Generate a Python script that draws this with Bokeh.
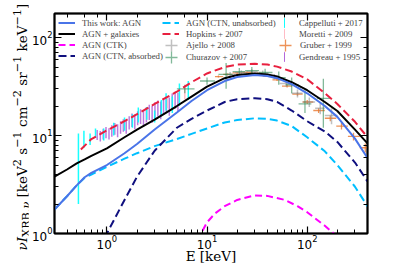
import numpy as np
from bokeh.plotting import figure
from bokeh.layouts import row
from bokeh.models import (ColumnDataSource, Legend, LegendItem, LogAxis, Div,
                          LogTicker, Range1d)
from bokeh.embed import file_html
from bokeh.resources import INLINE

# ---------------- model curves ----------------
E_grid = [0.3, 0.4, 0.5, 0.6, 0.7, 1, 1.5, 2, 3, 5, 7, 10, 15, 20, 30, 40, 50, 70, 100, 150, 200, 300, 400]
this_work_agn = [1.76, 2.4, 3.1, 3.75, 4.15, 5.0, 6.6, 8.2, 11.5, 17.2, 22.5, 29.0, 36, 39.5, 41.5, 40.5, 38.5, 33.5, 27, 20, 15.5, 9.3, 5.9]
agn_galaxies = [3.8, 4.5, 5.2, 5.7, 6.2, 7.4, 9.6, 11.5, 14.5, 20, 25, 31.5, 38.5, 41.5, 43, 42, 40, 35, 29, 22, 17.8, 11.5, 8.3]
ctn_unabsorbed = [1.76, 2.4, 3.1, 3.7, 4.0, 4.8, 5.8, 6.6, 7.8, 9.2, 10.4, 11.8, 13.6, 14.4, 15.0, 14.8, 14.2, 12.5, 9.6, 6.9, 5.0, 3.0, 1.9]

E_abs = [0.95, 1, 1.5, 2, 3, 5, 7, 10, 15, 20, 30, 40, 50, 70, 100, 150, 200, 300, 400]
ctn_absorbed = [0.9, 1.0, 2.2, 3.8, 7.0, 12, 14.8, 18, 22, 23.5, 24, 23.5, 22, 18, 14, 11, 8.6, 5.3, 3.4]

E_ctk = [8, 10, 12, 15, 20, 30, 40, 60, 80, 100, 150, 200]
ctk = [0.85, 1.3, 1.6, 1.9, 2.2, 2.45, 2.42, 2.2, 1.9, 1.65, 1.2, 0.93]

E_hop = [0.55, 0.7, 1, 1.5, 2, 3, 5, 7, 10, 15, 20, 30, 40, 50, 70, 100, 150, 200, 300, 400]
hopkins = [7.2, 9.2, 11.3, 14.0, 16.5, 21, 28, 35, 43, 50, 53, 54, 53, 50.5, 45, 37.5, 27, 21, 13.8, 9.6]

# ---------------- data sets ----------------
capp_E = [0.52, 0.59, 0.68, 0.77, 0.93, 1.17, 1.5, 1.8, 2.06, 2.5, 3.0, 3.5, 3.9, 4.5, 5.3, 6.5]
capp_lo = [2.0, 7.5, 8.0, 9.5, 8.9, 10.0, 11.2, 12.0, 13.6, 14.5, 13.6, 16.0, 18.0, 17.0, 20.0, 23.0]
capp_hi = [10.5, 11.2, 10.5, 11.8, 11.8, 13.5, 15.3, 16.5, 19.3, 19.5, 18.0, 23.0, 27.0, 25.0, 34.0, 36.0]

gend_E = [0.80, 0.86, 0.92, 0.98, 1.05, 1.12, 1.20, 1.28, 1.37, 1.46, 1.56, 1.67, 1.78, 1.90, 2.03,
          2.17, 2.32, 2.48, 2.65, 2.83, 3.02, 3.23, 3.45, 3.68, 3.93, 4.20, 4.49, 4.80, 5.12]
gend_F = [10.2, 9.9, 10.4, 10.8, 10.5, 11.2, 11.8, 11.3, 12.2, 12.8, 12.4, 13.6, 14.5, 14.0, 15.2,
          15.8, 15.1, 16.6, 17.5, 16.8, 18.4, 19.2, 18.5, 20.3, 21.0, 20.2, 22.5, 23.4, 22.6]
gend_err = [1.2, 1.2, 1.3, 1.4, 1.4, 1.5, 1.6, 1.7, 1.8, 1.9, 2.0, 2.1, 2.3, 2.4, 2.5,
            2.7, 2.8, 3.0, 3.1, 3.3, 3.4, 3.6, 3.8, 3.9, 4.1, 4.3, 4.4, 4.6, 4.8]

mor_E = [1.5, 2.5, 4.0, 6.0]
mor_lo = [11.5, 14.5, 19.0, 23.5]
mor_hi = [14.5, 18.5, 24.0, 30.5]

aje_E = [17, 22, 28, 36, 47, 62, 80, 105, 135, 175]
aje_xlo = [15, 19, 25, 32, 41, 53, 70, 90, 120, 150]
aje_xhi = [19, 25, 32, 41, 53, 70, 90, 120, 150, 200]
aje_F = [42, 44, 45, 43.5, 40, 34, 27, 22, 19, 16]
aje_lo = [39.5, 41.5, 42.5, 41, 37.5, 31.5, 24.5, 19.5, 16.5, 13]
aje_hi = [44.5, 46.5, 47.5, 46, 42.5, 36.5, 29.5, 24.5, 21.5, 19]

chu_E = [6, 10, 15.5, 21, 28, 38, 52, 70, 95, 145]
chu_xlo = [5, 8.5, 13, 18, 24, 33, 45, 61, 82, 125]
chu_xhi = [7.5, 12, 18, 24, 33, 45, 61, 82, 110, 170]
chu_F = [30, 36, 42, 45, 46, 44, 39, 33, 21, 24]
chu_lo = [27, 33, 30, 41, 42, 40, 33, 27, 17, 12]
chu_hi = [33, 39, 55, 49, 50, 48, 45, 39, 29, 38]

gru_E = [13, 16, 20, 25, 32, 40, 50, 63, 80, 100, 130, 170, 220, 290, 380]
gru_xlo = [12, 14.5, 18, 22.5, 28.5, 36, 45, 56, 71, 90, 115, 150, 195, 255, 335]
gru_xhi = [14.5, 18, 22.5, 28.5, 36, 45, 56, 71, 90, 115, 150, 195, 255, 335, 430]
gru_F = [40, 42, 43.5, 44, 43, 40.5, 37, 32, 26.5, 22, 18, 15, 12.5, 9.8, 7.5]
gru_lo = [39, 41, 42.5, 43, 42, 39.5, 36, 31, 25.5, 21, 17, 14, 11.5, 8.9, 6.7]
gru_hi = [41, 43, 44.5, 45, 44, 41.5, 38, 33, 27.5, 23, 19, 16, 13.5, 10.7, 8.3]

# ---------------- figure ----------------
FRAME_H = 220
CANVAS_H = 266
LABEL_W = 28
p = figure(width=399 - LABEL_W, height=CANVAS_H, x_axis_type="log", y_axis_type="log",
           x_range=Range1d(0.3, 400), y_range=Range1d(1, 176),
           output_backend="svg", toolbar_location=None,
           min_border_left=52 - LABEL_W, min_border_right=32, min_border_top=13, min_border_bottom=33)
p.grid.visible = False
p.outline_line_color = "black"
p.outline_line_width = 2
p.background_fill_color = "white"
p.border_fill_color = "white"

def style_axis(ax, show_labels=True, standoff=2):
    ax.axis_line_color = "black"
    ax.axis_line_width = 1.5
    ax.major_tick_in = 7
    ax.major_tick_out = 0
    ax.minor_tick_in = 4
    ax.minor_tick_out = 0
    ax.major_tick_line_width = 1.2
    ax.minor_tick_line_width = 1
    if show_labels:
        ax.major_label_text_font = "DejaVu Sans"
        ax.major_label_text_font_size = "12px"
        ax.major_label_text_color = "black"
        ax.major_label_standoff = standoff
    else:
        ax.major_label_text_font_size = "1px"
        ax.major_label_text_alpha = 0
        ax.major_label_standoff = 0

style_axis(p.xaxis[0], standoff=1)
style_axis(p.yaxis[0], standoff=2)
p.xaxis.axis_label = "E [keV]"
p.xaxis.axis_label_text_font = "DejaVu Serif"
p.xaxis.axis_label_text_font_size = "13.5px"
p.xaxis.axis_label_text_font_style = "normal"
p.xaxis.axis_label_text_color = "black"
p.xaxis.axis_label_standoff = -4

top_ax = LogAxis(ticker=LogTicker())
style_axis(top_ax, False)
p.add_layout(top_ax, "above")
right_ax = LogAxis(ticker=LogTicker())
style_axis(right_ax, False)
p.add_layout(right_ax, "right")

# vertical-only error bars drawn as zero-width quads (legend shows a thin bar)
def vbars(E, lo, hi, color, alpha, lw):
    src = ColumnDataSource(dict(E=E, lo=lo, hi=hi))
    return p.quad(left="E", right="E", bottom="lo", top="hi", source=src,
                  line_color=color, line_alpha=alpha, line_width=lw,
                  fill_color=color, fill_alpha=alpha)

def crosses(E, F, xlo, xhi, lo, hi, color, alpha, lw):
    src = ColumnDataSource(dict(E=E, F=F, xlo=xlo, xhi=xhi, lo=lo, hi=hi))
    p.segment(x0="xlo", y0="F", x1="xhi", y1="F", source=src,
              line_color=color, line_alpha=alpha, line_width=lw)
    p.segment(x0="E", y0="lo", x1="E", y1="hi", source=src,
              line_color=color, line_alpha=alpha, line_width=lw)
    # zero-size cross markers: only their legend glyph is visible
    return p.scatter(x="E", y="F", source=src, marker="cross", size=0,
                     line_color=color, line_alpha=alpha, line_width=lw)

gend_lo = [f - e for f, e in zip(gend_F, gend_err)]
gend_hi = [f + e for f, e in zip(gend_F, gend_err)]

c_capp, a_capp = "#00ffff", 0.9
c_mor, a_mor = "#ffb6c1", 0.9
c_gend, a_gend = "#9932cc", 0.65
c_aje, a_aje = "#8c8c8c", 0.55
c_chu, a_chu = "#2e8b57", 0.6
c_gru, a_gru = "#e8772e", 0.8

r_gend = vbars(gend_E, gend_lo, gend_hi, c_gend, a_gend, 1.5)
r_mor = vbars(mor_E, mor_lo, mor_hi, c_mor, a_mor, 1.5)
r_capp = vbars(capp_E, capp_lo, capp_hi, c_capp, a_capp, 1.5)
r_gru = crosses(gru_E, gru_F, gru_xlo, gru_xhi, gru_lo, gru_hi, c_gru, a_gru, 1.3)
r_aje = crosses(aje_E, aje_F, aje_xlo, aje_xhi, aje_lo, aje_hi, c_aje, a_aje, 1.5)
r_chu = crosses(chu_E, chu_F, chu_xlo, chu_xhi, chu_lo, chu_hi, c_chu, a_chu, 1.3)

# model lines
r_cyan = p.line(E_grid, ctn_unabsorbed, line_color="#00bfff", line_width=2, line_dash="8 4")
r_navy = p.line(E_abs, ctn_absorbed, line_color="#10107f", line_width=2, line_dash="8 4")
r_mag = p.line(E_ctk, ctk, line_color="#ff00ff", line_width=2, line_dash="7 4")
r_red = p.line(E_hop, hopkins, line_color="#e8203f", line_width=2, line_dash="8 4")
r_black = p.line(E_grid, agn_galaxies, line_color="black", line_width=2)
r_blue = p.line(E_grid, this_work_agn, line_color="#4a74e8", line_width=2)

# legends: rows centred 9.7, 21, 32.3, 43.7 px below the frame top
ROW_C = [9.7, 21.0, 32.3, 43.7]

def make_legend(items, first_row, glyph_left, gw, gh, text_left):
    n = len(items)
    top = ROW_C[first_row] - gh / 2.0
    vy = FRAME_H - top - n * gh
    lg = Legend(items=items, location=(glyph_left, vy), orientation="vertical",
                glyph_width=gw, glyph_height=gh, label_height=gh,
                label_standoff=int(round(text_left - glyph_left - gw)),
                spacing=0, padding=0, margin=0,
                border_line_alpha=0, background_fill_alpha=0,
                label_text_font="Liberation Serif", label_text_font_size="8.8px",
                label_text_baseline="middle")
    p.add_layout(lg)

make_legend([LegendItem(label="This work: AGN", renderers=[r_blue]),
             LegendItem(label="AGN + galaxies", renderers=[r_black]),
             LegendItem(label="AGN (CTK)", renderers=[r_mag]),
             LegendItem(label="AGN (CTN, absorbed)", renderers=[r_navy])], 0, 4, 17, 11, 28)
make_legend([LegendItem(label="AGN (CTN, unabsorbed)", renderers=[r_cyan]),
             LegendItem(label="Hopkins + 2007", renderers=[r_red])], 0, 108, 17, 11, 132)
make_legend([LegendItem(label="Ajello + 2008", renderers=[r_aje])], 2, 102, 30, 30, 132)
make_legend([LegendItem(label="Churazov + 2007", renderers=[r_chu])], 3, 102, 30, 30, 132)
make_legend([LegendItem(label="Cappelluti + 2017", renderers=[r_capp]),
             LegendItem(label="Moretti + 2009", renderers=[r_mor])], 0, 230, 1, 11, 245)
make_legend([LegendItem(label="Gruber + 1999", renderers=[r_gru])], 2, 216, 30, 30, 245)
make_legend([LegendItem(label="Gendreau + 1995", renderers=[r_gend])], 3, 230, 1, 11, 245)

# y-axis label as rotated HTML text (real sub/superscripts)
ylabel_html = (
    '<div style="width:%dpx;height:%dpx;line-height:%dpx;text-align:center;white-space:nowrap;'
    'font-family:\'DejaVu Serif\';font-size:13.5px;color:black;transform-origin:0 0;'
    'transform:translate(4px,260px) rotate(-90deg);">'
    '<i>&nu;I</i><sub>XRB,<i>&nu;</i></sub> [keV<sup>2</sup> s<sup>&minus;1</sup> '
    'cm<sup>&minus;2</sup> sr<sup>&minus;1</sup> keV<sup>&minus;1</sup>]</div>'
) % (CANVAS_H, LABEL_W, LABEL_W)
ylab = Div(text=ylabel_html, width=LABEL_W, height=CANVAS_H, margin=(0, 0, 0, 0),
           styles={"overflow": "visible"})

layout = row(ylab, p, spacing=0)
open("out.html", "w").write(file_html(layout, INLINE))
